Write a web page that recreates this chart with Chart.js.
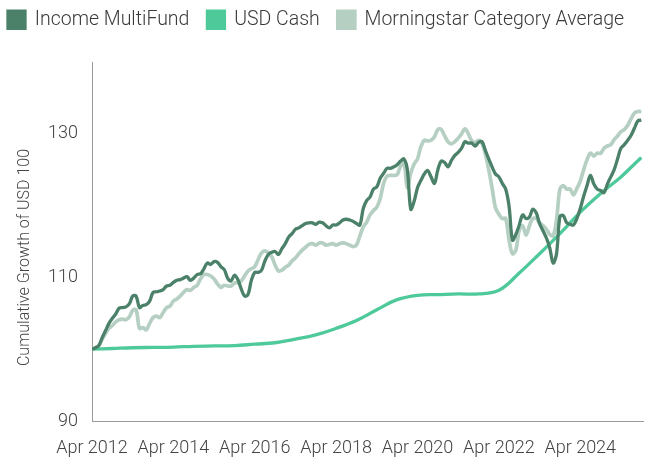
<!DOCTYPE html>
<html>
<head>
<meta charset="utf-8">
<script src="https://cdn.jsdelivr.net/npm/chart.js@4"></script>
<style>
  body { margin: 0; background: #fff; }
  #wrap { width: 653px; height: 460px; position: relative; }
</style>
</head>
<body>
<div id="wrap"><canvas id="myChart"></canvas></div>
<script>
// months counted from Apr 2012 (0) to Oct 2025 (162)
const fundValues = [
  100.0, 100.2, 100.5, 101.6, 102.6, 103.6, 104.3, 104.9, 105.7, 105.8,
  105.9, 106.3, 107.4, 107.4, 105.8, 106.1, 106.2, 106.7, 107.9, 108.0,
  108.1, 108.3, 108.8, 108.9, 109.3, 109.6, 109.7, 109.9, 110.1, 109.6,
  109.9, 110.4, 110.5, 111.2, 112.0, 111.8, 112.2, 112.1, 111.5, 111.1,
  109.9, 109.5, 110.3, 109.7, 108.4, 107.4, 107.6, 109.6, 110.7, 110.7,
  111.0, 112.3, 113.2, 113.5, 113.6, 113.2, 114.0, 114.7, 115.6, 116.1,
  116.7, 116.9, 117.2, 117.5, 117.6, 117.6, 117.4, 117.7, 117.6, 117.2,
  116.9, 117.3, 117.3, 117.6, 118.0, 118.1, 118.0, 117.8, 117.5, 117.3,
  119.6, 120.7, 121.2, 122.3, 122.6, 123.8, 124.5, 125.2, 125.2, 125.4,
  125.7, 126.2, 126.5, 125.0, 119.5, 120.6, 122.5, 123.5, 124.4, 124.9,
  124.0, 123.1, 125.0, 126.2, 126.0, 125.4, 126.3, 127.0, 127.4, 128.0,
  128.9, 128.7, 128.7, 128.3, 128.8, 128.9, 127.7, 126.5, 125.4, 124.4,
  124.0, 123.1, 122.3, 119.9, 115.2, 116.0, 117.3, 118.7, 118.2, 118.4,
  119.5, 119.0, 117.5, 116.5, 115.5, 114.1, 112.0, 113.3, 118.5, 118.6,
  117.6, 117.4, 117.3, 118.2, 119.6, 121.3, 122.8, 124.2, 123.0, 122.3,
  122.1, 121.8, 123.0, 124.0, 125.0, 126.5, 128.0, 128.5, 129.1, 129.8,
  130.8, 131.8, 131.9
];

const categoryValues = [
  100.0, 100.2, 100.5, 101.4, 102.2, 102.9, 103.3, 103.8, 104.1, 104.2,
  104.1, 104.5, 105.4, 105.5, 102.9, 103.0, 102.7, 103.6, 104.4, 104.6,
  104.4, 105.1, 105.8, 106.0, 106.7, 107.0, 107.4, 107.9, 108.3, 108.2,
  108.6, 108.9, 109.8, 110.4, 110.4, 110.2, 109.8, 109.1, 108.6, 108.9,
  108.8, 108.8, 109.2, 109.3, 109.5, 110.2, 110.9, 111.2, 111.5, 112.5,
  113.4, 113.7, 113.4, 112.9, 111.7, 110.9, 111.0, 111.4, 111.7, 112.3,
  112.7, 113.3, 113.8, 114.2, 114.6, 114.7, 114.5, 114.8, 114.8, 114.5,
  114.6, 114.7, 114.5, 114.7, 114.8, 114.7, 114.5, 114.3, 114.5, 115.8,
  117.0, 117.7, 118.7, 119.3, 119.8, 121.0, 123.1, 124.1, 124.2, 124.2,
  124.3, 125.5, 126.0, 122.5, 124.5, 125.8, 126.5, 128.2, 129.1, 129.0,
  129.1, 129.6, 130.6, 130.6, 129.7, 128.9, 128.6, 128.9, 129.4, 130.0,
  130.7, 130.0, 129.0, 128.8, 129.1, 128.7, 127.2, 125.0, 122.4, 119.7,
  118.8, 118.2, 118.2, 115.2, 113.3, 113.8, 116.6, 117.2, 115.9, 117.2,
  118.2, 118.2, 117.6, 117.2, 116.7, 116.0, 115.8, 118.0, 122.3, 122.8,
  122.3, 122.3, 121.5, 122.4, 123.4, 125.0, 126.4, 127.3, 126.9, 127.3,
  127.3, 128.0, 128.3, 128.5, 129.2, 129.7, 130.3, 130.6, 131.2, 132.1,
  132.9, 133.1, 133.1
];

// cash is smooth, read every 6 months
const cashMonths = [0, 6, 12, 18, 24, 30, 36, 42, 48, 54, 60, 66, 72, 78, 84, 90,
  96, 102, 108, 114, 120, 126, 132, 138, 144, 150, 156, 160, 162];
const cashValues = [100.0, 100.1, 100.2, 100.25, 100.3, 100.4, 100.45, 100.5, 100.7,
  100.9, 101.4, 102.0, 102.9, 104.0, 105.5, 106.9, 107.5, 107.6, 107.7, 107.7,
  108.2, 110.6, 113.3, 116.1, 119.1, 121.7, 124.0, 125.8, 126.7];

const xTickMonths = [0, 24, 48, 72, 96, 120, 144];
const yTickValues = [90, 110, 130];
const seriesNames = ['Income MultiFund', 'USD Cash', 'Morningstar Category Average'];
const yTitle = 'Cumulative Growth of USD 100';

const fundPoints = fundValues.map((v, i) => ({ x: i, y: v }));
const categoryPoints = categoryValues.map((v, i) => ({ x: i, y: v }));
const cashPoints = cashValues.map((v, i) => ({ x: cashMonths[i], y: v }));

function monthLabel(m) {
    return 'Apr ' + (2012 + Math.round(m / 12));
}

const textFont = 'Roboto';

// make room under the legend
const legendSpace = {
    id: 'legendSpace',
    beforeInit(chart) {
        const fit = chart.legend.fit;
        chart.legend.fit = function () {
            fit.bind(chart.legend)();
            this.height = 70;
        };
    }
};

// y axis title, sits a little below the middle of the axis
const yTitlePlugin = {
    id: 'yTitlePlugin',
    afterDraw(chart) {
        const c = chart.ctx;
        const area = chart.chartArea;
        c.save();
        c.translate(25, (area.top + area.bottom) / 2 + 16);
        c.rotate(-Math.PI / 2);
        c.font = '300 16px ' + textFont;
        c.fillStyle = '#444';
        c.textAlign = 'center';
        c.textBaseline = 'middle';
        c.fillText(yTitle, 0, 0);
        c.restore();
    }
};

const ctx = document.getElementById('myChart');
const myChart = new Chart(ctx, {
    type: 'line',
    data: {
        datasets: [
            {
                label: seriesNames[0],
                data: fundPoints,
                borderColor: '#4b8069',
                backgroundColor: '#4b8069',
                borderWidth: 3.3,
                tension: 0.35
            },
            {
                label: seriesNames[1],
                data: cashPoints,
                borderColor: '#4ec99a',
                backgroundColor: '#4ec99a',
                borderWidth: 3.3,
                tension: 0.4
            },
            {
                label: seriesNames[2],
                data: categoryPoints,
                borderColor: '#b5cfc3',
                backgroundColor: '#b5cfc3',
                borderWidth: 3.7,
                tension: 0.35
            }
        ]
    },
    options: {
        responsive: true,
        maintainAspectRatio: false,
        animation: false,
        elements: { point: { radius: 0 } },
        layout: { padding: { top: -8, right: 10, left: -10, bottom: 0 } },
        plugins: {
            tooltip: { enabled: false },
            legend: {
                position: 'top',
                align: 'start',
                labels: {
                    boxWidth: 17,
                    boxHeight: 17,
                    padding: 18,
                    color: '#3a3a3a',
                    font: { family: textFont, size: 19.5, weight: '300' }
                }
            }
        },
        scales: {
            x: {
                type: 'linear',
                min: 0,
                max: 162.5,
                afterBuildTicks: (axis) => { axis.ticks = xTickMonths.map(v => ({ value: v })); },
                afterFit: (axis) => { axis.height = 39; },
                grid: { display: false, drawTicks: true, tickLength: 6, tickColor: '#999' },
                border: { color: '#999', width: 1 },
                ticks: {
                    autoSkip: false,
                    maxRotation: 0,
                    padding: 11,
                    color: '#444',
                    font: { family: textFont, size: 18, weight: '300' },
                    callback: (v) => monthLabel(v)
                }
            },
            y: {
                min: 90,
                max: 140,
                afterBuildTicks: (axis) => { axis.ticks = yTickValues.map(v => ({ value: v })); },
                afterFit: (axis) => { axis.width = 102; },
                grid: { display: false, drawTicks: true, tickLength: 6, tickColor: '#999' },
                border: { color: '#999', width: 1 },
                ticks: {
                    padding: 8,
                    color: '#444',
                    font: { family: textFont, size: 18, weight: '300' }
                }
            }
        }
    },
    plugins: [legendSpace, yTitlePlugin]
});
</script>
</body>
</html>
